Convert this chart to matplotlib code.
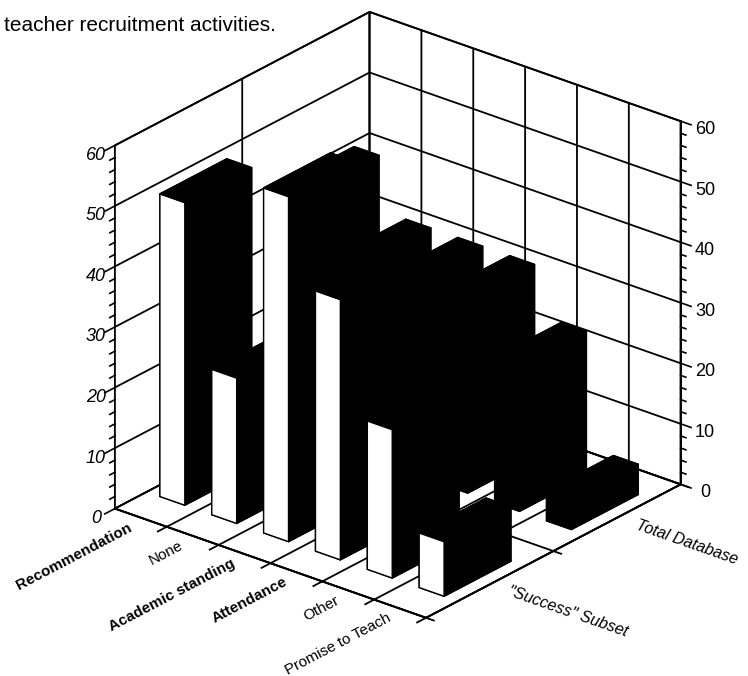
import matplotlib
matplotlib.use("Agg")
import matplotlib.pyplot as plt

plt.rcParams['font.family'] = ['Liberation Sans', 'DejaVu Sans']
plt.rcParams['grid.color'] = 'black'
plt.rcParams['grid.linewidth'] = 1.3
plt.rcParams['axes.linewidth'] = 1.3

categories = ['Recommendation', 'None', 'Academic standing', 'Attendance', 'Other', 'Promise to Teach']
cat_weight = ['bold', 'normal', 'bold', 'bold', 'normal', 'normal']
series_names = ['"Success" Subset', 'Total Database']
success_subset = [50, 24, 57, 43, 24.5, 9]
total_database = [41, 32, 32, 32, 24, 5]
z_ticks = [0, 10, 20, 30, 40, 50, 60]
minor_step = 2

fig = plt.figure(figsize=(7.48, 6.76), dpi=100)
ax = fig.add_axes([0.0676, 0.0207, 0.904, 1.0], projection='3d', computed_zorder=False)
ax.view_init(elev=25.4, azim=-50.7)
ax.set_proj_type('ortho')
ax.set_box_aspect((1, 1, 1), zoom=1.0)
ax.set_xlim(0, 6)
ax.set_ylim(0, 2)
ax.set_zlim(0, 60)

for axis in (ax.xaxis, ax.yaxis, ax.zaxis):
    axis.set_pane_color((1, 1, 1, 1))
    axis.pane.set_edgecolor('black')
    axis.pane.set_linewidth(1.3)
    axis.line.set_color('black')
    axis.line.set_linewidth(1.3)
    axis._axinfo['tick']['inward_factor'] = 0
    axis._axinfo['tick']['outward_factor'] = 0

ax.set_xticks(range(7))
ax.set_yticks(range(3))
ax.set_zticks(z_ticks)
ax.set_xticklabels([])
ax.set_yticklabels([])
ax.set_zticklabels([])

# front row has a white face, back row is solid black
front_faces = ['black', 'black', 'white', 'black', 'black', 'black']
bar_w = 0.48
bar_d = 0.525
order = 10
for i, v in enumerate(total_database):
    ax.bar3d(i + 0.254, 1.25, 0, bar_w, bar_d, v, color='black',
             edgecolor='black', linewidth=1.0, shade=False, zorder=order)
    order += 1
for i, v in enumerate(success_subset):
    ax.bar3d(i + 0.254, 0.25, 0, bar_w, bar_d, v, color=front_faces,
             edgecolor='black', linewidth=1.0, shade=False, zorder=order)
    order += 1

# tick marks on the two vertical axes
for z in range(0, 61, minor_step):
    major = z in z_ticks
    ax.plot([0, 0], [0, -0.08 if major else -0.04], [z, z], color='black', lw=1.2, zorder=2)
    ax.plot([6, 6.2 if major else 6.1], [2, 2], [z, z], color='black', lw=1.2, zorder=2)
for z in z_ticks:
    ax.text(0, -0.15, z, str(z), style='italic', fontsize=13, ha='center', va='center', zorder=50)
    ax.text(6.47, 2, z, str(z), fontsize=13, ha='center', va='center', zorder=50)

# floor ticks crossing the front edges
for i in range(1, 7):
    ax.plot([i, i], [0, -0.07], [0, 0], color='black', lw=1.3, zorder=2)
for j in range(0, 3):
    ax.plot([6, 6.15], [j, j], [0, 0], color='black', lw=1.3, zorder=2)

# category and series names follow the floor edges
for i, name in enumerate(categories):
    ax.text(i + 0.575, -0.112, 0, name, zdir='y', fontsize=11, fontweight=cat_weight[i],
            ha='right', va='center', rotation_mode='anchor', zorder=50)
for j, name in enumerate(series_names):
    ax.text(6.37, j + 0.5, 0, name, zdir='x', fontsize=11.5, style='italic',
            ha='left', va='center', rotation_mode='anchor', zorder=50)

fig.text(0.005, 0.963, 'teacher recruitment activities.', fontsize=15, ha='left', va='center')

fig.savefig('out.png', dpi=100)
